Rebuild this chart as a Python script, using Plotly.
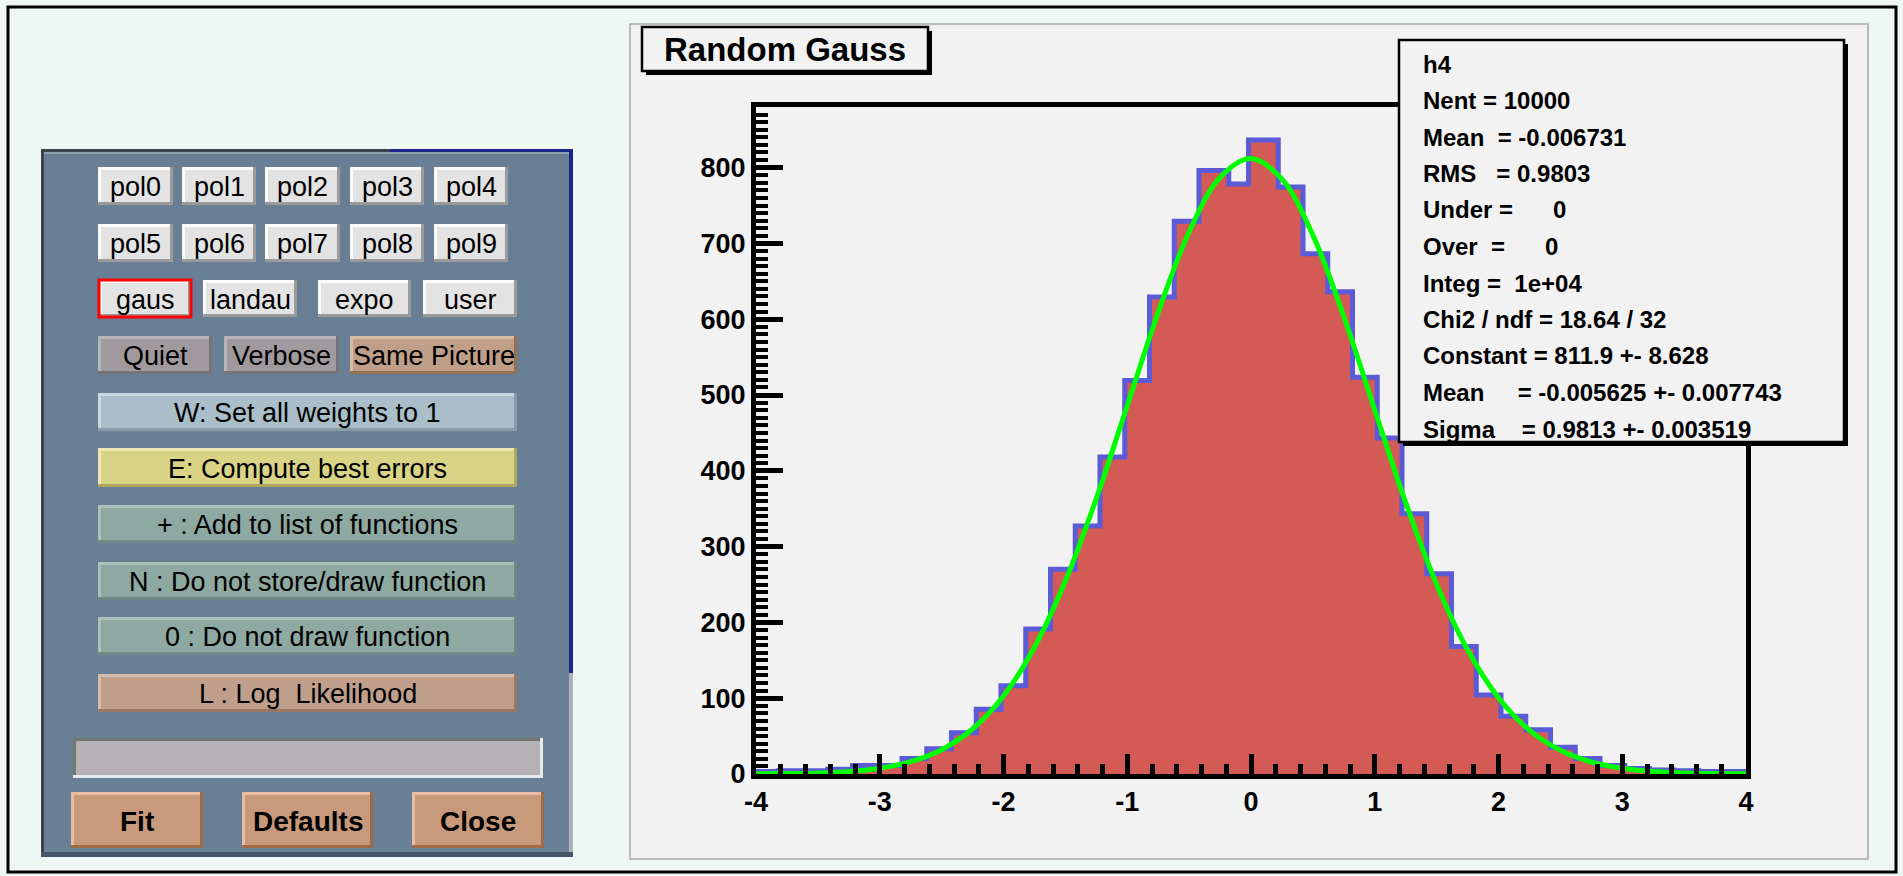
import plotly.graph_objects as go

W, H = 1903, 876

# ---------------------------------------------------------------- data
bin_edges = [-4.0, -3.8, -3.6, -3.4, -3.2, -3.0, -2.8, -2.6, -2.4, -2.2,
             -2.0, -1.8, -1.6, -1.4, -1.2, -1.0, -0.8, -0.6, -0.4, -0.2,
             0.0, 0.2, 0.4, 0.6, 0.8, 1.0, 1.2, 1.4, 1.6, 1.8,
             2.0, 2.2, 2.4, 2.6, 2.8, 3.0, 3.2, 3.4, 3.6, 3.8, 4.0]
counts = [0, 1, 1, 3, 8, 8, 17, 30, 51, 82,
          113, 188, 267, 324, 415, 516, 626, 726, 793, 775,
          833, 771, 683, 633, 520, 440, 340, 261, 165, 101,
          73, 55, 32, 17, 8, 4, 2, 1, 0, 0]

fit_x = [-4.0, -3.75, -3.5, -3.25, -3.0, -2.75, -2.5, -2.25, -2.0, -1.75,
         -1.5, -1.25, -1.0, -0.75, -0.5, -0.25, 0.0, 0.25, 0.5, 0.75,
         1.0, 1.25, 1.5, 1.75, 2.0, 2.25, 2.5, 2.75, 3.0, 3.25,
         3.5, 3.75, 4.0]
fit_y = [0.2, 0.6, 1.4, 3.4, 7.7, 16.3, 32.1, 59.4, 102.9, 167.2,
         254.6, 363.3, 485.9, 608.9, 715.1, 787.1, 811.9, 784.8, 711.0, 603.6,
         480.3, 358.1, 250.2, 163.9, 100.6, 57.8, 31.2, 15.8, 7.5, 3.3,
         1.4, 0.6, 0.2]

x_ticks = [-4, -3, -2, -1, 0, 1, 2, 3, 4]
x_tick_labels = ["-4", "-3", "-2", "-1", "0", "1", "2", "3", "4"]

title_text = "Random Gauss"
stats_lines = ["h4",
               "Nent = 10000",
               "Mean  = -0.006731",
               "RMS   = 0.9803",
               "Under =      0",
               "Over  =      0",
               "Integ =  1e+04",
               "Chi2 / ndf = 18.64 / 32",
               "Constant = 811.9 +- 8.628",
               "Mean     = -0.005625 +- 0.007743",
               "Sigma    = 0.9813 +- 0.003519"]

pol_row1 = ["pol0", "pol1", "pol2", "pol3", "pol4"]
pol_row2 = ["pol5", "pol6", "pol7", "pol8", "pol9"]
func_row = ["gaus", "landau", "expo", "user"]
mode_row = ["Quiet", "Verbose", "Same Picture"]
option_rows = ["W: Set all weights to 1", "E: Compute best errors",
               "+ : Add to list of functions", "N : Do not store/draw function",
               "0 : Do not draw function", "L : Log  Likelihood"]
action_row = ["Fit", "Defaults", "Close"]

FONT = "Liberation Sans, Arial, sans-serif"


def fx(x):
    return x / W


def fy(y):
    return 1 - y / H


shapes = []
annotations = []


def rect(x0, y0, x1, y1, fill, line=None, lw=0, layer="above"):
    shapes.append(dict(type="rect", xref="paper", yref="paper",
                       x0=fx(x0), x1=fx(x1), y0=fy(y1), y1=fy(y0),
                       fillcolor=fill, layer=layer,
                       line=dict(color=line or fill, width=lw)))


def label(x, y, text, size, bold=False, anchor="center"):
    annotations.append(dict(xref="paper", yref="paper", x=fx(x), y=fy(y),
                            text=("<b>%s</b>" % text) if bold else text,
                            showarrow=False, xanchor=anchor, yanchor="middle",
                            font=dict(family=FONT, size=size, color="black")))


def button(x0, y0, x1, y1, face, light, dark, text, size=27, bold=False, bev=3):
    rect(x0, y0, x1, y1, dark)
    rect(x0, y0, x1 - bev, y1 - bev, light)
    rect(x0 + bev, y0 + bev, x1 - bev, y1 - bev, face)
    label((x0 + x1) / 2, (y0 + y1) / 2 + 1, text, size, bold)


# ---------------------------------------------------------------- canvas
rect(8, 7, 1896, 872, "#eff7f5", "black", 3, layer="below")
rect(630, 24, 1868, 859, "#f2f2f2", "#a8a8a8", 1.5, layer="below")

# ---------------------------------------------------------------- fit panel
rect(41, 149, 573, 857, "#687f95")
rect(41, 149, 44, 857, "#3c4246")
rect(41, 149, 390, 152, "#3c4246")
rect(390, 149, 573, 152, "#18268a")
rect(569, 149, 573, 673, "#18268a")
rect(569, 673, 573, 857, "#a9b3b8")
rect(41, 852, 573, 857, "#46566a")
rect(44, 152, 569, 154, "#8fa2b2")

pol_x = [(98, 173), (182, 256), (265, 340), (350, 424), (434, 508)]
for (x0, x1), t in zip(pol_x, pol_row1):
    button(x0, 167, x1, 205, "#e3e3e3", "#fbfbfb", "#9b9b9b", t)
for (x0, x1), t in zip(pol_x, pol_row2):
    button(x0, 224, x1, 262, "#e3e3e3", "#fbfbfb", "#9b9b9b", t)

func_x = [(99, 191), (203, 297), (318, 411), (423, 517)]
for (x0, x1), t in zip(func_x, func_row):
    button(x0, 280, x1, 317, "#e3e3e3", "#fbfbfb", "#9b9b9b", t)
rect(99, 280, 191, 317, "rgba(0,0,0,0)", "#ff0000", 3)

mode_x = [(98, 212), (224, 339), (350, 517)]
mode_col = [("#a09a9e", "#b9b4b8", "#77727a"),
            ("#a09a9e", "#b9b4b8", "#77727a"),
            ("#bf9f88", "#d6bba6", "#99704f")]
for (x0, x1), t, c in zip(mode_x, mode_row, mode_col):
    button(x0, 336, x1, 374, c[0], c[1], c[2], t)

opt_y = [(393, 431), (448, 487), (505, 543), (562, 600), (617, 655), (674, 712)]
opt_col = [("#a9bec8", "#c9d8df", "#8a9aa4"),
           ("#d9d386", "#ece7b3", "#b0a75f"),
           ("#8ea9a2", "#aac0ba", "#6d8983"),
           ("#8ea9a2", "#aac0ba", "#6d8983"),
           ("#8ea9a2", "#aac0ba", "#6d8983"),
           ("#bf9e8b", "#d8bca9", "#9a7764")]
for (y0, y1), t, c in zip(opt_y, option_rows, opt_col):
    button(98, y0, 517, y1, c[0], c[1], c[2], t)

# text entry
rect(73, 738, 543, 778, "#e2eaea")
rect(73, 738, 540, 775, "#6f776f")
rect(76, 741, 540, 775, "#b6b1b5")

act_x = [(71, 203), (242, 373), (412, 544)]
for (x0, x1), t in zip(act_x, action_row):
    button(x0, 792, x1, 848, "#c9997b", "#e9bda4", "#9f6a48", t, size=28, bold=True)

# ---------------------------------------------------------------- title box
rect(646, 31, 932, 75, "black")
rect(642, 27, 928, 71, "#f2f2f2", "black", 2.5)
label(785, 50, title_text, 33, bold=True)

# ---------------------------------------------------------------- stats box
rect(1403, 44, 1848, 446, "black")
rect(1399, 40, 1844, 442, "#f2f2f2", "black", 2.5)
for i, s in enumerate(stats_lines):
    label(1421, 64 + 36.5 * i, s.replace(" ", "\u00a0"), 24, bold=True, anchor="left")

# ---------------------------------------------------------------- histogram
step_y = counts + [counts[-1]]
fig = go.Figure()
fig.add_trace(go.Scatter(x=bin_edges, y=step_y, mode="lines", line_shape="hv",
                         line=dict(color="#5b5bd8", width=10), hoverinfo="skip"))
fig.add_trace(go.Scatter(x=bin_edges, y=step_y, mode="lines", line_shape="hv",
                         fill="tozeroy", fillcolor="#d45a56",
                         line=dict(color="#d45a56", width=0)))
fig.add_trace(go.Scatter(x=fit_x, y=fit_y, mode="lines", line_shape="spline",
                         line=dict(color="#00ff00", width=5)))

tickfont = dict(family=FONT, size=27, color="black", weight="bold")
fig.update_layout(
    template="none",
    width=W, height=H, autosize=False,
    margin=dict(l=0, r=0, t=0, b=0, pad=0, autoexpand=False),
    paper_bgcolor="#eff7f5", plot_bgcolor="#f2f2f2",
    showlegend=False, hovermode=False,
    shapes=shapes, annotations=annotations,
    xaxis=dict(domain=[fx(756), fx(1746)], range=[-4, 4], automargin=False,
               tickvals=x_ticks, ticktext=x_tick_labels,
               ticks="inside", ticklen=20, tickwidth=5,
               tickcolor="black", showline=True, linewidth=5, linecolor="black",
               mirror=True, showgrid=False, zeroline=False, tickfont=tickfont,
               minor=dict(dtick=0.2, ticks="inside", ticklen=10, tickwidth=5,
                          tickcolor="black", showgrid=False)),
    yaxis=dict(domain=[fy(774), fy(107)], range=[0, 880], automargin=False,
               tick0=0, dtick=100, ticks="inside", ticklen=27, tickwidth=5,
               tickcolor="black", showline=True, linewidth=5, linecolor="black",
               mirror=True, showgrid=False, zeroline=False, tickfont=tickfont,
               minor=dict(dtick=10, ticks="inside", ticklen=12, tickwidth=4,
                          tickcolor="black", showgrid=False)),
)

fig.write_html("out.html",
               config={"displayModeBar": False, "staticPlot": True},
               post_script="document.body.style.margin='0';"
                           "document.body.style.overflow='hidden';")
